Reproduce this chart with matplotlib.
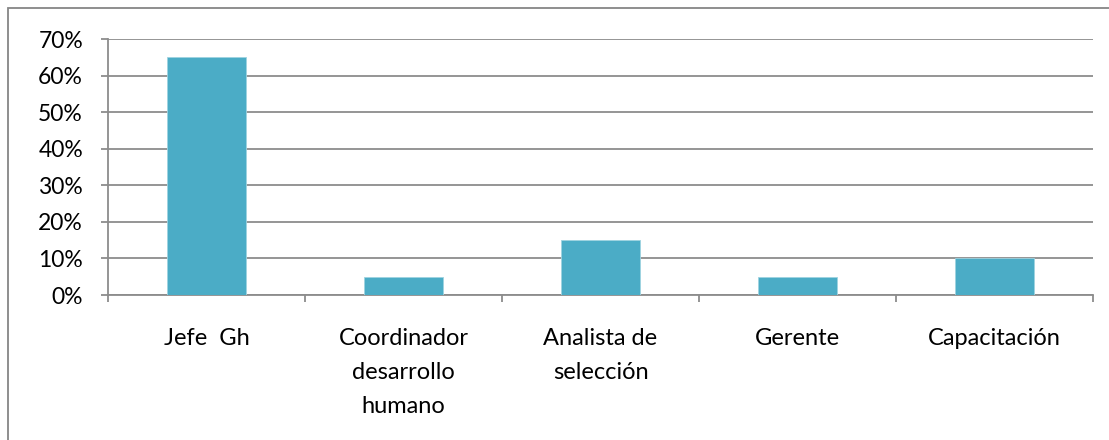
import matplotlib
matplotlib.use('Agg')
import matplotlib.pyplot as plt
from matplotlib.patches import Rectangle
from matplotlib.ticker import FixedLocator, PercentFormatter
import numpy as np

# Data
categories = ['Jefe  Gh', 'Coordinador\ndesarrollo\nhumano', 'Analista de\nselección',
              'Gerente', 'Capacitación']
values = [0.65, 0.05, 0.15, 0.05, 0.10]
y_ticks = [0.0, 0.1, 0.2, 0.3, 0.4, 0.5, 0.6, 0.7]

plt.rcParams['font.family'] = ['Lato', 'DejaVu Sans']

fig = plt.figure(figsize=(11.09, 4.40), dpi=100)
ax = fig.add_axes([108 / 1109, 1 - 295 / 440, (1093 - 108) / 1109, (295 - 39) / 440])

grid_col = '#8c8c8c'
x = np.arange(len(categories))
ax.bar(x, values, width=0.4, color='#4bacc6', edgecolor='#9fd3e0', linewidth=0.6, zorder=3)

ax.set_xlim(-0.5, len(categories) - 0.5)
ax.set_ylim(0, 0.7)
ax.set_yticks(y_ticks)
ax.yaxis.set_major_formatter(PercentFormatter(1.0, decimals=0))
ax.yaxis.grid(True, color=grid_col, linewidth=1.3, zorder=0)

# category boundaries get the tick marks, centres get the labels
ax.xaxis.set_major_locator(FixedLocator(np.arange(len(categories) + 1) - 0.5))
ax.xaxis.set_minor_locator(FixedLocator(x))
ax.set_xticklabels([''] * (len(categories) + 1))
ax.set_xticklabels(categories, minor=True, linespacing=1.75)

ax.tick_params(axis='y', length=5, width=1.3, color=grid_col, labelsize=16.5, pad=13)
ax.tick_params(axis='x', which='major', length=5, width=1.3, color=grid_col)
ax.tick_params(axis='x', which='minor', length=0, labelsize=17, pad=24)

for side in ['top', 'right']:
    ax.spines[side].set_visible(False)
for side in ['left', 'bottom']:
    ax.spines[side].set_color(grid_col)
    ax.spines[side].set_linewidth(1.3)

# outer chart frame
fig.patches.append(Rectangle((8 / 1109, -0.05), 1.1, 1 - 8 / 440 + 0.05, transform=fig.transFigure,
                             fill=False, edgecolor='#868686', linewidth=1.3))

fig.savefig('out.png', dpi=100)
